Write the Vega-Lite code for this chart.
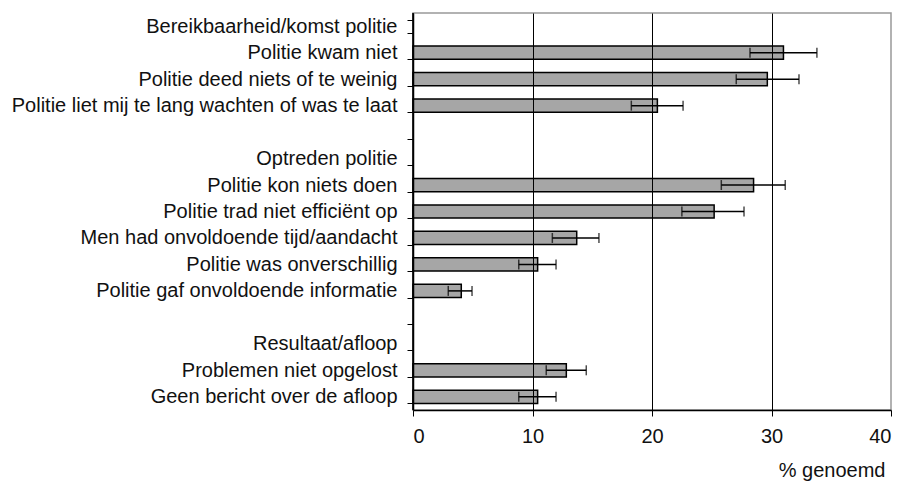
{
  "$schema": "https://vega.github.io/schema/vega-lite/v6.json",
  "width": 478,
  "height": 397,
  "autosize": {"type": "none"},
  "padding": {"left": 413, "top": 13, "right": 13, "bottom": 72},
  "background": "white",
  "config": {
    "view": {"stroke": "#999999", "strokeWidth": 1.5},
    "font": "Liberation Sans"
  },
  "data": {
    "values": [
      {"cat": "Politie kwam niet", "value": 31.0, "low": 28.2, "high": 33.8},
      {"cat": "Politie deed niets of te weinig", "value": 29.65, "low": 27.05, "high": 32.3},
      {"cat": "Politie liet mij te lang wachten of was te laat", "value": 20.45, "low": 18.27, "high": 22.6},
      {"cat": "Politie kon niets doen", "value": 28.5, "low": 25.8, "high": 31.15},
      {"cat": "Politie trad niet efficiënt op", "value": 25.2, "low": 22.5, "high": 27.7},
      {"cat": "Men had onvoldoende tijd/aandacht", "value": 13.7, "low": 11.66, "high": 15.56},
      {"cat": "Politie was onverschillig", "value": 10.43, "low": 8.85, "high": 11.97},
      {"cat": "Politie gaf onvoldoende informatie", "value": 4.04, "low": 2.95, "high": 4.94},
      {"cat": "Problemen niet opgelost", "value": 12.83, "low": 11.15, "high": 14.5},
      {"cat": "Geen bericht over de afloop", "value": 10.43, "low": 8.85, "high": 11.97}
    ]
  },
  "encoding": {
    "y": {
      "field": "cat",
      "type": "nominal",
      "scale": {
        "domain": [
          "Bereikbaarheid/komst politie",
          "Politie kwam niet",
          "Politie deed niets of te weinig",
          "Politie liet mij te lang wachten of was te laat",
          " ",
          "Optreden politie",
          "Politie kon niets doen",
          "Politie trad niet efficiënt op",
          "Men had onvoldoende tijd/aandacht",
          "Politie was onverschillig",
          "Politie gaf onvoldoende informatie",
          "  ",
          "Resultaat/afloop",
          "Problemen niet opgelost",
          "Geen bericht over de afloop"
        ],
        "paddingInner": 0.5,
        "paddingOuter": 0.25
      },
      "axis": {
        "title": null,
        "zindex": 1,
        "tickBand": "extent",
        "domainColor": "black",
        "domainWidth": 1.5,
        "tickColor": "black",
        "tickSize": 6,
        "tickWidth": 1,
        "labelPadding": 10,
        "labelFontSize": 20,
        "labelColor": "#111111",
        "labelFont": "Liberation Sans",
        "labelLimit": 420,
        "grid": false
      }
    }
  },
  "layer": [
    {
      "mark": {"type": "bar", "color": "#a6a6a6", "stroke": "black", "strokeWidth": 1.5},
      "encoding": {
        "x": {
          "field": "value",
          "type": "quantitative",
          "scale": {"domain": [0, 40], "nice": false},
          "axis": {
            "zindex": 1,
            "values": [0, 10, 20, 30, 40],
            "grid": true,
            "gridColor": {"condition": {"test": "datum.value == 10 || datum.value == 20 || datum.value == 30", "value": "black"}, "value": null},
            "gridWidth": 1,
            "domainColor": "black",
            "domainWidth": 1.5,
            "tickColor": "black",
            "tickSize": 6,
            "labelFontSize": 20,
            "labelColor": "#111111",
            "labelFont": "Liberation Sans",
            "labelPadding": 10,
            "title": "% genoemd",
            "titleFont": "Liberation Sans",
            "titleFontSize": 20,
            "titleFontWeight": "normal",
            "titleColor": "#111111",
            "titleAnchor": "end",
            "titleAlign": "right",
            "titleBaseline": "alphabetic",
            "titleX": 472,
            "titleY": 66
          }
        }
      }
    },
    {
      "mark": {"type": "rule", "color": "black", "strokeWidth": 1.5},
      "encoding": {
        "x": {"field": "low", "type": "quantitative"},
        "x2": {"field": "high"}
      }
    },
    {
      "mark": {"type": "tick", "color": "black", "thickness": 1.5, "size": 10, "orient": "vertical"},
      "encoding": {"x": {"field": "low", "type": "quantitative"}}
    },
    {
      "mark": {"type": "tick", "color": "black", "thickness": 1.5, "size": 10, "orient": "vertical"},
      "encoding": {"x": {"field": "high", "type": "quantitative"}}
    },
    {
      "data": {"values": [{"zero": 0}]},
      "mark": {"type": "rule", "color": "black", "strokeWidth": 1.5},
      "encoding": {"x": {"field": "zero", "type": "quantitative"}, "y": null}
    }
  ]
}
